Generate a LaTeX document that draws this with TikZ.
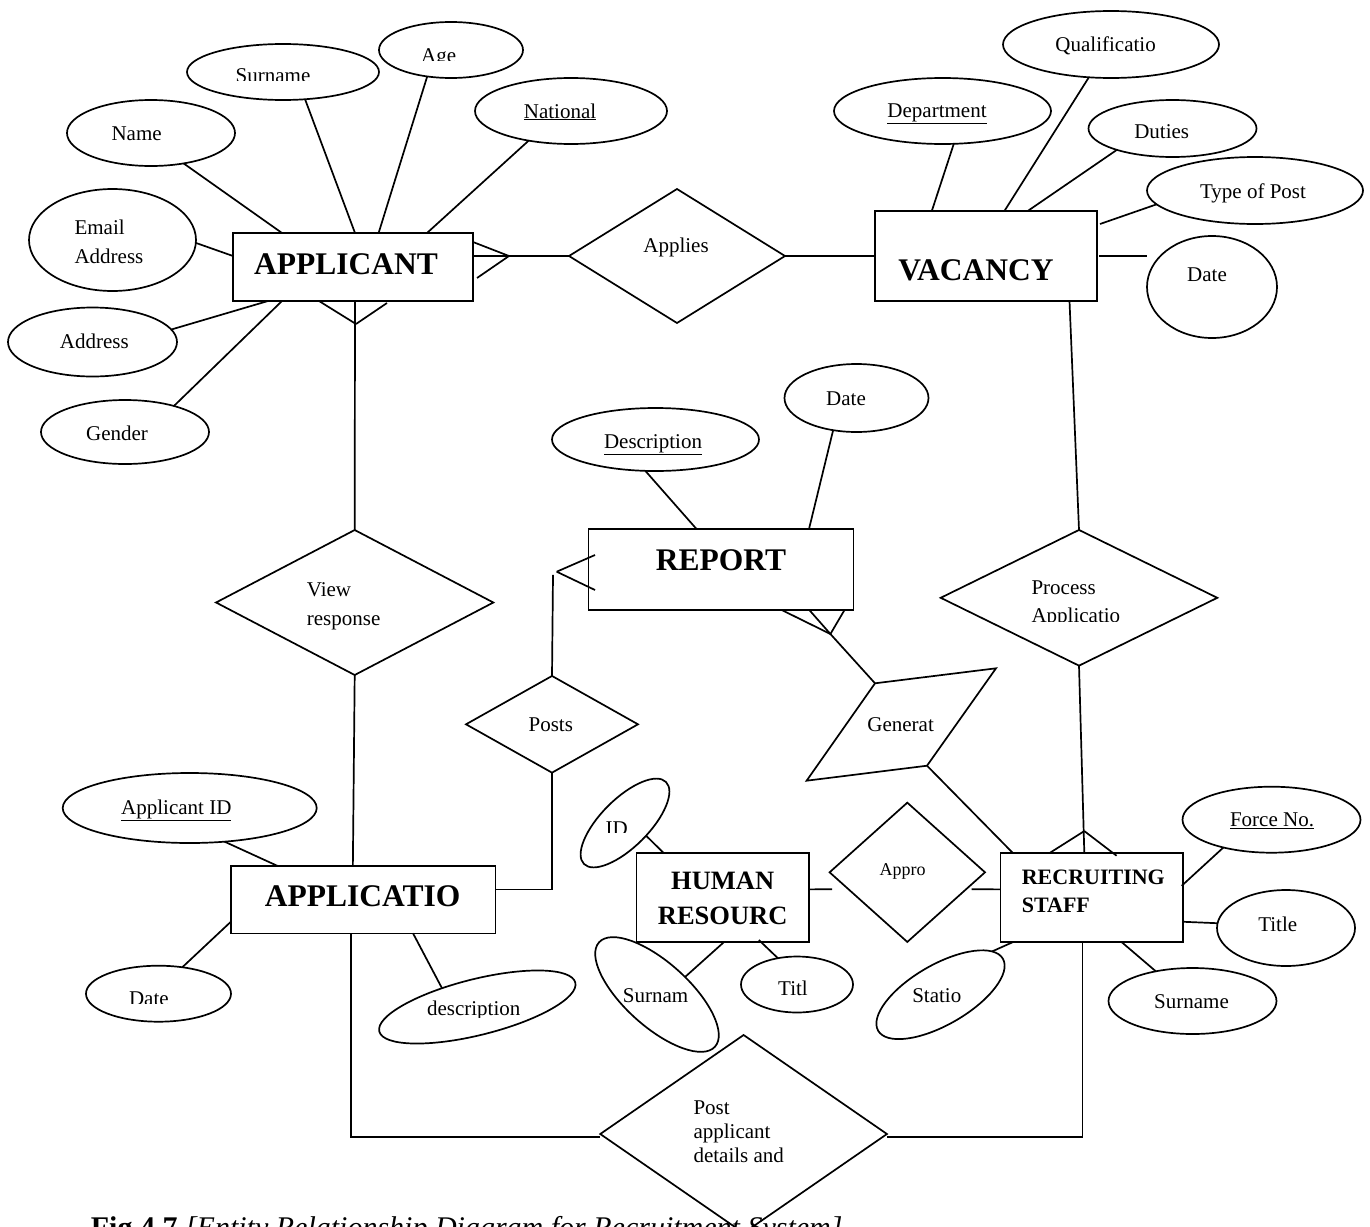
\documentclass[tikz,border=0pt]{standalone}
\usepackage{fontspec}
\setmainfont{Liberation Serif}
\usetikzlibrary{shapes.geometric,calc}

\begin{document}
\begin{tikzpicture}[x=1pt,y=-1pt,
  line width=1.7pt,
  attr/.style={draw, ellipse, inner sep=0pt, outer sep=0pt},
  entity/.style={draw, rectangle, inner sep=0pt, outer sep=0pt},
  rel/.style={draw, diamond, inner sep=0pt, outer sep=0pt},
  txt/.style={inner sep=0pt, anchor=base, font=\fontsize{21}{25}\selectfont},
  txtl/.style={txt, anchor=base west},
  etxt/.style={inner sep=0pt, anchor=base, font=\fontsize{31.5}{36}\selectfont\bfseries},
]
\useasboundingbox (0,0) rectangle (1370,1226);
\fill[white] (0,0) rectangle (1370,1226);
\clip (0,0) rectangle (1370,1226);

% ---------------- entities ----------------
\node[entity, minimum width=240pt, minimum height=68pt] (app) at (353,267) {};
\node[etxt] (tapp) at (346,274.5) {APPLICANT};
\node[entity, minimum width=222pt, minimum height=90pt] (vac) at (986,256) {};
\node[etxt] (tvac) at (976,280) {VACANCY};
\node[entity, minimum width=265pt, minimum height=81pt] (rep) at (721,569.5) {};
\node[etxt] (trep) at (721,570) {REPORT};
\node[entity, minimum width=264.7pt, minimum height=67.3pt] (apn) at (363.2,899.7) {};
\node[etxt] (tapn) at (362.7,906.7) {APPLICATIO};
\node[entity, minimum width=172.6pt, minimum height=89.3pt] (hr) at (722.7,897.4) {};
\node[etxt, font=\fontsize{26.5}{30}\selectfont\bfseries] (thr1) at (722.7,889.3) {HUMAN};
\node[etxt, font=\fontsize{26.5}{30}\selectfont\bfseries] (thr2) at (722.7,924) {RESOURC};
\node[entity, minimum width=182.4pt, minimum height=89.3pt] (rs) at (1091.8,897.4) {};
\node[etxt, anchor=base west, font=\fontsize{22}{26}\selectfont\bfseries] (trs1) at (1021,884) {RECRUITING};
\node[etxt, anchor=base west, font=\fontsize{22}{26}\selectfont\bfseries] (trs2) at (1021,912.3) {STAFF};

% ---------------- relationships ----------------
\node[rel, minimum width=216pt, minimum height=134pt] (applies) at (677,256) {};
\node[txt] (tapplies) at (676,252) {Applies};
\node[rel, minimum width=277.3pt, minimum height=145pt] (view) at (354.7,602.5) {};
\node[txtl] (tview1) at (306,596.7) {View};
\node[txtl] (tview2) at (306,625) {response};
\node[rel, minimum width=172pt, minimum height=96.7pt] (posts) at (552,724.3) {};
\node[txt] (tposts) at (550.8,731) {Posts};
\node[rel, minimum width=276.6pt, minimum height=135.7pt] (proc) at (1079,597.8) {};
\node[txtl] (tproc1) at (1030.7,594.3) {Process};
\begin{scope}
  \clip (1000,600) rectangle (1150,621.5);
  \node[txtl] (tproc2) at (1030.7,622.3) {Applicatio};
\end{scope}
\node[rel, minimum width=155.4pt, minimum height=139.3pt] (appro) at (907.3,872.3) {};
\node[txt, font=\fontsize{18}{22}\selectfont] (tappro) at (902.5,875.7) {Appro};
\node[rel, minimum width=286.7pt, minimum height=198pt] (postd) at (743.6,1134) {};
\node[txtl] (tpost1) at (692.7,1114.3) {Post};
\node[txtl] (tpost2) at (692.7,1138.3) {applicant};
\node[txtl] (tpost3) at (692.7,1162.7) {details and};

% parallelogram relationship
\coordinate (gTL) at (875,683.3);
\coordinate (gTR) at (996,668.3);
\coordinate (gBR) at (927,765.7);
\coordinate (gBL) at (806.6,780.7);
\draw (gTL) -- (gTR) -- (gBR) -- (gBL) -- cycle;
\node[txt] (tgen) at (900.6,731) {Generat};

% ---------------- attributes of APPLICANT ----------------
\node[attr, minimum width=192pt, minimum height=56pt] (surn) at (283,72) {};
\begin{scope}
  \clip (190,40) rectangle (380,80.5);
  \node[txt] (tsurn) at (273,82) {Surname};
\end{scope}
\node[attr, minimum width=144pt, minimum height=56pt] (age) at (451,50) {};
\begin{scope}
  \clip (380,20) rectangle (522,60);
  \node[txt] (tage) at (438.6,62.2) {Age};
\end{scope}
\node[attr, minimum width=168pt, minimum height=66pt] (name) at (151,133) {};
\node[txt] (tname) at (136.6,140) {Name};
\node[attr, minimum width=192pt, minimum height=66pt] (natl) at (571,111) {};
\node[txt] (tnatl) at (560,118) {\underline{National}};
\node[attr, minimum width=167pt, minimum height=102pt] (email) at (112.5,240) {};
\node[txtl] (temail1) at (73.7,234.3) {Email};
\node[txtl] (temail2) at (73.7,263.3) {Address};
\node[attr, minimum width=169pt, minimum height=69pt] (addr) at (92.5,342) {};
\node[txt] (taddr) at (94.4,348.3) {Address};
\node[attr, minimum width=168pt, minimum height=64pt] (gend) at (125,432) {};
\node[txt] (tgend) at (117,440) {Gender};

% ---------------- attributes of VACANCY ----------------
\node[attr, minimum width=216pt, minimum height=67pt] (qual) at (1111,44.5) {};
\node[txt] (tqual) at (1105.6,51.7) {Qualificatio};
\node[attr, minimum width=217pt, minimum height=66pt] (dept) at (942.5,111) {};
\node[txt] (tdept) at (937,117) {\underline{Department}};
\node[attr, minimum width=168pt, minimum height=57pt] (duties) at (1172.5,128.5) {};
\node[txt] (tduties) at (1161.7,138.3) {Duties};
\node[attr, minimum width=216pt, minimum height=67pt] (tpost) at (1255,190.5) {};
\node[txt] (ttpost) at (1253,198.3) {Type of Post};
\node[attr, minimum width=130pt, minimum height=102pt] (datev) at (1212,287) {};
\node[txt] (tdatev) at (1207,281) {Date};

% ---------------- attributes of REPORT ----------------
\node[attr, minimum width=144pt, minimum height=68pt] (dater) at (856.5,398) {};
\node[txt] (tdater) at (846,405) {Date};
\node[attr, minimum width=207pt, minimum height=63pt] (desc) at (655.5,439.5) {};
\node[txt] (tdesc) at (653,448.3) {\underline{Description}};

% ---------------- attributes of APPLICATIO ----------------
\node[attr, minimum width=254pt, minimum height=70pt] (appid) at (189.7,808) {};
\node[txt] (tappid) at (176.3,814.3) {\underline{Applicant ID}};
\node[attr, minimum width=145pt, minimum height=56pt] (datea) at (158.5,993.7) {};
\begin{scope}
  \clip (90,965) rectangle (230,1003.5);
  \node[txt] (tdatea) at (148.9,1005) {Date};
\end{scope}
\node[attr, rotate=14, minimum width=202pt, minimum height=56pt] (descr) at (477.3,1007) {};
\begin{scope}
  \clip (380,970) rectangle (575,1017);
  \node[txt] (tdescr) at (473.7,1015) {description};
\end{scope}

% ---------------- attributes of HUMAN RESOURC ----------------
\node[attr, rotate=45, minimum width=116pt, minimum height=48pt] (idn) at (625,823) {};
\begin{scope}
  \clip (590,800) rectangle (660,832.7);
  \node[txt] (tidn) at (616.8,835.6) {ID};
\end{scope}
\node[attr, rotate=-42, minimum width=156pt, minimum height=64pt] (surnam) at (657,994.5) {};
\node[txt] (tsurnam) at (655.5,1002.3) {Surnam};
\node[attr, minimum width=112pt, minimum height=56pt] (titl) at (797,984.5) {};
\begin{scope}
  \clip (745,960) rectangle (850,995);
  \node[txt] (ttitl) at (793,995.8) {Titl};
\end{scope}

% ---------------- attributes of RECRUITING STAFF ----------------
\node[attr, rotate=30, minimum width=144pt, minimum height=60pt] (statio) at (940.5,994.7) {};
\node[txt] (tstatio) at (936.8,1002.3) {Statio};
\node[attr, minimum width=178pt, minimum height=66pt] (force) at (1271.5,819.7) {};
\node[txt] (tforce) at (1272,826.7) {\underline{Force No.}};
\node[attr, minimum width=138pt, minimum height=76pt] (title) at (1286,928) {};
\node[txt] (ttitle) at (1277.7,931.7) {Title};
\node[attr, minimum width=168pt, minimum height=66pt] (surnrs) at (1192.5,1001) {};
\node[txt] (tsurnrs) at (1191.5,1008.3) {Surname};

% ---------------- APPLICANT connectors ----------------
\draw (surn.-51) -- ($(app.north west)+(122,0)$);
\draw (age.-132) -- ($(app.north west)+(145.6,0)$);
\draw (name.-43) -- ($(app.north west)+(49,0)$);
\draw (natl.-145) -- ($(app.north west)+(194,0)$);
\draw (email.-2) -- ($(app.north west)+(0,23)$);
\draw (addr.9) -- ($(app.south west)+(35,0)$);
\draw (gend.28) -- ($(app.south west)+(49,0)$);
% crow's foot towards Applies
\coordinate (cfA) at ($(app.north east)+(36,23)$);
\draw ($(app.north east)+(0,9)$) -- (cfA);
\draw ($(app.north east)+(0,23)$) -- (cfA);
\draw ($(app.north east)+(4,45)$) -- (cfA);
\draw (cfA) -- (applies.west);
% crow's foot towards View response
\coordinate (cfB) at ($(app.south west)+(123,23)$);
\draw ($(app.south west)+(86,0)$) -- (cfB);
\draw ($(app.south west)+(154,2)$) -- (cfB);
\draw ($(app.south west)+(122,0)$) -- (view.north);

% ---------------- VACANCY connectors ----------------
\draw (applies.east) -- (vac.west);
\draw (dept.-71) -- ($(vac.north west)+(56.8,0)$);
\draw (qual.-124) -- ($(vac.north west)+(129.4,0)$);
\draw (duties.-159) -- ($(vac.north west)+(152.7,0)$);
\draw (tpost.-172) -- ($(vac.north east)+(3,13)$);
\draw ($(vac.north east)+(2,45)$) -- ($(datev.west)+(0,-31)$);
\draw ($(vac.south west)+(194.5,0)$) -- (proc.north);

% ---------------- REPORT connectors ----------------
\draw (desc.-108) -- ($(rep.north west)+(108,0)$);
\draw (dater.-126) -- ($(rep.north west)+(220.5,0)$);
\coordinate (cfC) at ($(rep.north west)+(-31.8,42.7)$);
\draw ($(rep.north west)+(6.5,26)$) -- (cfC);
\draw ($(rep.north west)+(6.5,61)$) -- (cfC);
\draw (posts.north) -- ++(1,-101);
\coordinate (cfD) at ($(rep.south west)+(241.9,24)$);
\draw ($(rep.south west)+(193.2,0)$) -- (cfD);
\draw ($(rep.south west)+(220.8,0)$) -- (cfD);
\draw ($(rep.south west)+(256,0)$) -- (cfD);
\draw (cfD) -- (gTL);

% ---------------- APPLICATIO connectors ----------------
\draw (view.south) -- ($(apn.north west)+(122,0)$);
\draw (posts.south) |- ($(apn.north east)+(0,23.3)$);
\draw (appid.-44) -- ($(apn.north west)+(47,0)$);
\draw (datea.48) -- ($(apn.north west)+(0,55.7)$);
\draw (descr.138) -- ($(apn.south west)+(182.2,0)$);
\draw ($(apn.south west)+(120.2,0)$) |- ($(postd.west)+(0,3)$);

% ---------------- HUMAN RESOURC connectors ----------------
\draw (idn.-76) -- ($(hr.north west)+(27,0)$);
\draw (surnam.74) -- ($(hr.south west)+(87.6,0)$);
\draw (titl.126) -- ($(hr.south west)+(122.5,-2)$);
\draw ($(hr.north east)+(0,36.6)$) -- ($(appro.west)+(2.4,17)$);
\draw ($(appro.east)+(-13.3,17)$) -- ($(rs.north west)+(0,36.6)$);

% ---------------- RECRUITING STAFF connectors ----------------
\coordinate (cfE) at ($(rs.north west)+(83.7,-21.7)$);
\draw ($(rs.north west)+(49.4,0)$) -- (cfE);
\draw ($(rs.north west)+(116,3)$) -- (cfE);
\draw ($(rs.north west)+(83.7,0)$) -- (proc.south);
\draw (gBR) -- ($(rs.north west)+(12,0)$);
\draw (force.-150) -- ($(rs.north east)+(-1.3,33)$);
\draw (title.176) -- ($(rs.north east)+(0,69)$);
\draw (surnrs.141) -- ($(rs.south west)+(121,0)$);
\draw (statio.10) -- ($(rs.south west)+(12.4,0)$);
\draw ($(rs.south west)+(82,0)$) |- ($(postd.east)+(0,3)$);

% ---------------- caption ----------------
\node[inner sep=0pt, anchor=base west, font=\fontsize{30}{34}\selectfont] (caption) at (90,1237)
  {\textbf{Fig 4.7} \textit{[Entity Relationship Diagram for Recruitment System]}};
\end{tikzpicture}
\end{document}
